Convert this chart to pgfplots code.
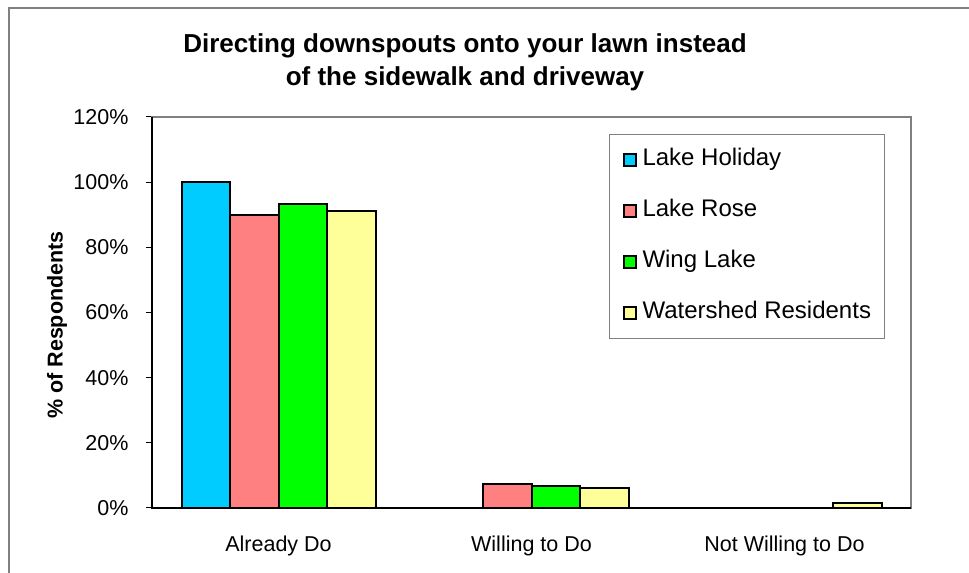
\documentclass[border=0pt]{standalone}
\usepackage{pgfplots}
\pgfplotsset{compat=1.18}
\usepackage{fontspec}
\setmainfont{Liberation Sans}
\definecolor{cBlue}{HTML}{00CCFF}
\definecolor{cPink}{HTML}{FF8080}
\definecolor{cGreen}{HTML}{00FF00}
\definecolor{cYellow}{HTML}{FFFF99}
\definecolor{frameGray}{HTML}{808080}
\begin{document}
\begin{tikzpicture}[x=1bp,y=1bp]
\useasboundingbox (0,0) rectangle (969,573);
\draw[frameGray, line width=1.2bp] (9,0) -- (9,565) -- (969,565);
\node[align=center, font=\fontsize{26bp}{33bp}\selectfont\bfseries] at (465,510.5) {Directing downspouts onto your lawn instead\\of the sidewalk and driveway};
\begin{axis}[
  at={(152bp,65bp)}, anchor=south west,
  scale only axis, width=759bp, height=391bp,
  ybar=0pt, bar width=48.5bp,
  xmin=-0.5, xmax=2.5, ymin=0, ymax=120,
  xtick={0,1,2}, xticklabels={Already Do, Willing to Do, Not Willing to Do},
  ytick={0,20,40,60,80,100,120}, yticklabels={0\%,20\%,40\%,60\%,80\%,100\%,120\%},
  xtick pos=bottom, ytick pos=left,
  x tick style={draw=none},
  y tick style={black, line width=1bp},
  tick align=outside, major tick length=6bp,
  axis line style={frameGray, line width=1.5bp},
  ticklabel style={font=\fontsize{21.5bp}{25bp}\selectfont},
  xticklabel style={yshift=-18bp},
  yticklabel style={xshift=-14bp},
  every axis y label/.style={at={(axis description cs:-0.125,0.468)}, rotate=90, anchor=center, font=\fontsize{21.5bp}{25bp}\selectfont\bfseries},
  ylabel={\% of Respondents},
  legend style={at={(rel axis cs:0.6021,0.9565)}, anchor=north west, draw=frameGray, line width=1bp, fill=white,
    inner xsep=13bp, inner ysep=15bp, row sep=30bp, column sep=6bp,
    nodes={inner sep=0pt, text height=16bp, text depth=5bp, font=\fontsize{24bp}{28bp}\selectfont}},
  legend cell align=left,
  legend image code/.code={\draw[#1, line width=2bp] (0bp,-5.5bp) rectangle (12bp,6.5bp);},
  clip=false,
]
\addplot[fill=cBlue, draw=black, line width=2bp] coordinates {(0,100)};
\addplot[fill=cPink, draw=black, line width=2bp] coordinates {(0,90) (1,7.5)};
\addplot[fill=cGreen, draw=black, line width=2bp] coordinates {(0,93.3) (1,6.7)};
\addplot[fill=cYellow, draw=black, line width=2bp] coordinates {(0,91.2) (1,6.1) (2,1.4)};
\legend{Lake Holiday, Lake Rose, Wing Lake, Watershed Residents}
\draw[black, line width=1.5bp] (rel axis cs:0,1) -- (rel axis cs:0,0) -- (rel axis cs:1,0);
\end{axis}
\end{tikzpicture}
\end{document}
